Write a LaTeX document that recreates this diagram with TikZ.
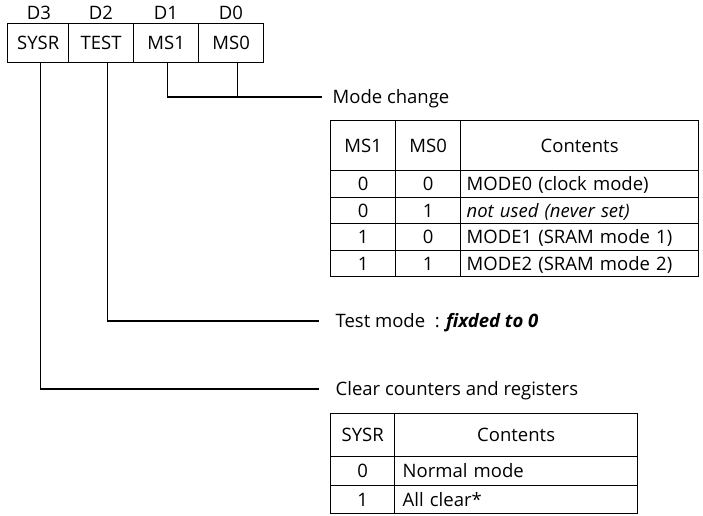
\documentclass[tikz,border=0pt]{standalone}
\usepackage{fontspec}
\setmainfont{Open Sans}
\begin{document}
\begin{tikzpicture}[x=1pt,y=-1pt,line width=1.3pt,
  txt/.style={font=\fontsize{18.5}{21}\selectfont,inner sep=0pt,text height=13.3pt,text depth=0pt},
  cell/.style={txt,draw,anchor=north west},
  lcell/.style={cell,align=left,inner xsep=6pt},
  lab/.style={txt,anchor=west},
  wire/.style={line width=1.3pt}]
\useasboundingbox (0,0) rectangle (703,515);
% register
\node[cell,minimum width=61pt,minimum height=39pt] (sysr) at (7,23) {SYSR};
\node[cell,minimum width=65pt,minimum height=39pt] (test) at (68,23) {TEST};
\node[cell,minimum width=65pt,minimum height=39pt] (ms1) at (133,23) {MS1};
\node[cell,minimum width=65pt,minimum height=39pt] (ms0) at (198,23) {MS0};
\node[txt] (d3) at (39,13) {D3};
\node[txt] (d2) at (101,13) {D2};
\node[txt] (d1) at (166,13) {D1};
\node[txt] (d0) at (231,13) {D0};
% labels
\node[lab] (modech) at (332,97) {Mode change};
\node[lab] (testmode) at (335,321) {Test mode\ \ : \textbf{\textit{fixded to 0}}};
\node[lab] (clr) at (335,389) {Clear counters and registers};
% connectors
\draw[wire] ([xshift=1.5pt]ms1.south) |- ([xshift=-10pt]modech.west);
\draw[wire] ([xshift=6.5pt]ms0.south) -- ([xshift=6.5pt]ms0.south |- modech.west);
\draw[wire] ([xshift=6pt]test.south) |- ([xshift=-16pt]testmode.west);
\draw[wire] ([xshift=2pt]sysr.south) |- ([xshift=-16pt]clr.west);
% table 1
\node[cell,minimum width=65pt,minimum height=50pt] (ta) at (330,120) {MS1};
\node[cell,minimum width=65pt,minimum height=50pt] (tb) at (395,120) {MS0};
\node[cell,minimum width=238pt,minimum height=50pt] (tc) at (460,120) {Contents};
\node[cell,minimum width=65pt,minimum height=26.5pt] (ta1) at (330,170) {0};
\node[cell,minimum width=65pt,minimum height=26.5pt] (tb1) at (395,170) {0};
\node[lcell,text width=226pt,minimum height=26.5pt] (tc1) at (460,170) {MODE0 (clock mode)};
\node[cell,minimum width=65pt,minimum height=26.5pt] (ta2) at (330,196.5) {0};
\node[cell,minimum width=65pt,minimum height=26.5pt] (tb2) at (395,196.5) {1};
\node[lcell,text width=226pt,minimum height=26.5pt] (tc2) at (460,196.5) {\textit{not used (never set)}};
\node[cell,minimum width=65pt,minimum height=26.5pt] (ta3) at (330,223) {1};
\node[cell,minimum width=65pt,minimum height=26.5pt] (tb3) at (395,223) {0};
\node[lcell,text width=226pt,minimum height=26.5pt] (tc3) at (460,223) {MODE1 (SRAM mode 1)};
\node[cell,minimum width=65pt,minimum height=26.5pt] (ta4) at (330,249.5) {1};
\node[cell,minimum width=65pt,minimum height=26.5pt] (tb4) at (395,249.5) {1};
\node[lcell,text width=226pt,minimum height=26.5pt] (tc4) at (460,249.5) {MODE2 (SRAM mode 2)};
% table 2
\node[cell,minimum width=64pt,minimum height=43pt] (sa) at (330,413) {SYSR};
\node[cell,minimum width=243pt,minimum height=43pt] (sb) at (394,413) {Contents};
\node[cell,minimum width=64pt,minimum height=29pt] (sa1) at (330,456) {0};
\node[lcell,inner xsep=8pt,text width=227pt,minimum height=29pt] (sb1) at (394,456) {Normal mode};
\node[cell,minimum width=64pt,minimum height=28pt] (sa2) at (330,485) {1};
\node[lcell,inner xsep=8pt,text width=227pt,minimum height=28pt] (sb2) at (394,485) {All clear*};
\end{tikzpicture}
\end{document}
